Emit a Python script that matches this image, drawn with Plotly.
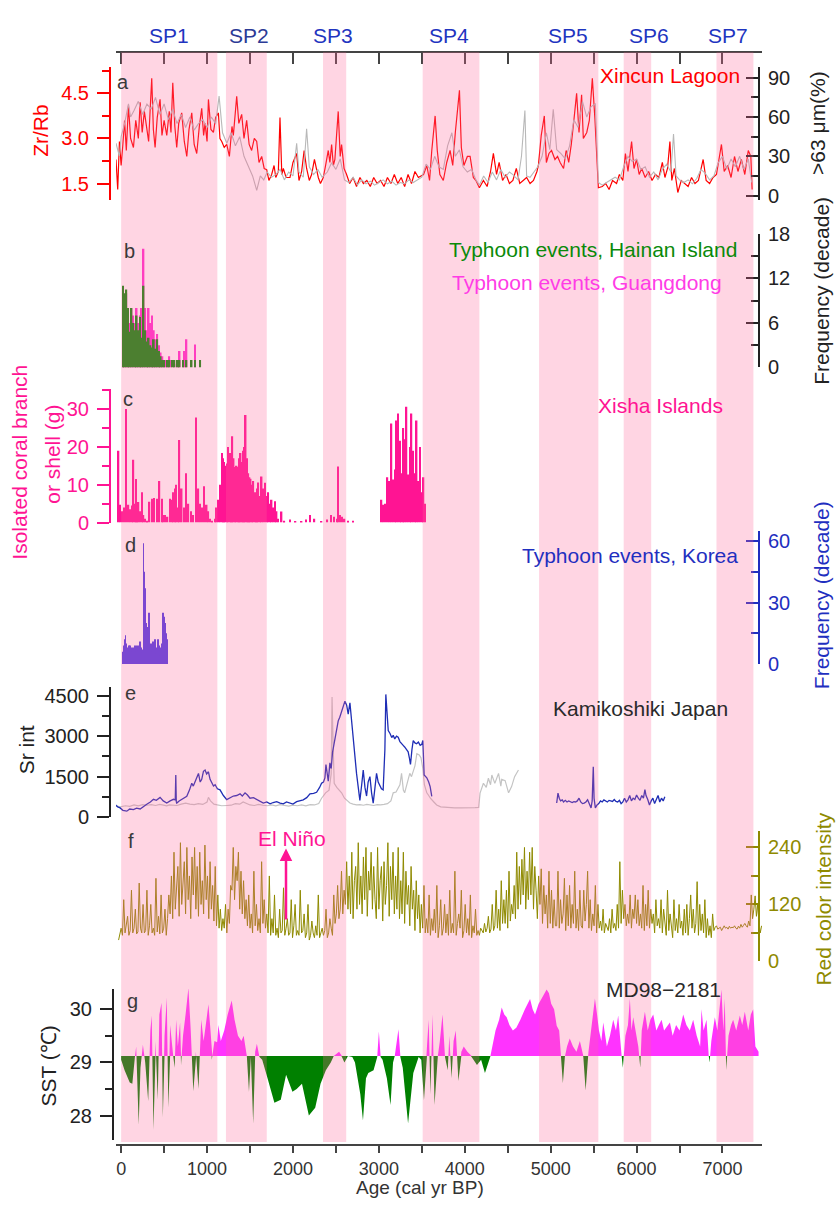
import plotly.graph_objects as go

W, H = 837, 1211

# ---------------- data ----------------
# shaded periods (cal yr BP)
SP_NAMES = ["SP1", "SP2", "SP3", "SP4", "SP5", "SP6", "SP7"]
SP_START = [0, 1220, 2350, 3510, 4865, 5850, 6930]
SP_END = [1120, 1695, 2620, 4170, 5555, 6170, 7360]
SP_LABEL_AGE = [560, 1490, 2470, 3815, 5200, 6150, 7060]

# (a) Xincun Lagoon Zr/Rb (age, value)
ZR_RB = [(-60, 2.3), (-40, 1.3), (-20, 2.9), (0, 2.1), (20, 2.8), (40, 3.6), (60, 2.6), (85, 4.1), (110, 3.0), (143, 2.7),
         (170, 3.6), (200, 3.0), (221, 4.2), (245, 3.2), (270, 3.9), (298, 3.4), (320, 2.9), (340, 4.1), (356, 5.0), (375, 3.3),
         (395, 2.7), (420, 3.7), (453, 4.3), (475, 3.1), (500, 3.6), (531, 3.1), (560, 3.9), (580, 3.2), (601, 4.85), (625, 3.4),
         (647, 2.7), (670, 3.5), (705, 3.85), (735, 2.9), (764, 2.4), (790, 3.3), (822, 3.85), (850, 2.8), (880, 2.5), (910, 3.4),
         (938, 4.0), (960, 3.1), (977, 3.5), (1000, 2.9), (1016, 4.3), (1045, 3.3), (1074, 3.2), (1100, 3.7), (1132, 3.85), (1150, 3.0),
         (1171, 2.9), (1200, 2.7), (1229, 2.8), (1260, 2.4), (1290, 3.4), (1306, 3.1), (1330, 3.9), (1345, 4.4), (1370, 3.5), (1403, 3.8),
         (1430, 3.0), (1461, 3.6), (1490, 2.8), (1519, 2.6), (1550, 3.0), (1578, 2.9), (1605, 2.2), (1636, 2.4), (1665, 2.0), (1694, 1.96),
         (1720, 1.6), (1752, 1.8), (1780, 2.1), (1800, 1.7), (1830, 1.9), (1849, 3.7), (1870, 1.8), (1888, 2.0), (1920, 1.7), (1965, 1.7),
         (2000, 2.2), (2043, 2.5), (2070, 1.6), (2101, 1.9), (2130, 2.6), (2159, 2.0), (2190, 1.6), (2217, 1.8), (2250, 2.3), (2295, 1.7),
         (2320, 1.5), (2353, 1.7), (2380, 2.1), (2411, 2.6), (2430, 2.2), (2450, 2.8), (2470, 2.1), (2488, 2.3), (2527, 3.9), (2550, 2.4),
         (2566, 2.8), (2595, 2.0), (2624, 1.8), (2660, 1.5), (2700, 1.7), (2740, 1.4), (2780, 1.7), (2820, 1.5), (2860, 1.6), (2900, 1.4),
         (2940, 1.7), (2980, 1.5), (3020, 1.6), (3060, 1.4), (3100, 1.7), (3140, 1.5), (3180, 1.8), (3220, 1.5), (3260, 1.7), (3300, 1.4),
         (3340, 1.8), (3380, 1.5), (3420, 1.9), (3460, 1.7), (3520, 1.8), (3558, 2.1), (3590, 1.6), (3616, 2.6), (3655, 3.75), (3680, 2.6),
         (3710, 1.8), (3750, 1.6), (3790, 2.2), (3829, 2.6), (3860, 2.1), (3890, 3.2), (3938, 4.6), (3960, 2.7), (3990, 2.1), (4030, 2.4),
         (4062, 2.4), (4100, 1.7), (4130, 1.6), (4170, 1.36), (4217, 1.6), (4260, 1.4), (4300, 1.9), (4333, 2.5), (4370, 1.8), (4400, 2.2),
         (4440, 1.6), (4480, 1.8), (4520, 1.5), (4560, 1.6), (4600, 2.0), (4640, 1.5), (4680, 1.6), (4720, 1.7), (4760, 1.5), (4800, 1.6),
         (4840, 1.9), (4857, 2.1), (4890, 3.1), (4926, 3.75), (4950, 2.2), (4980, 2.5), (5010, 2.6), (5050, 2.3), (5080, 2.4), (5110, 2.2),
         (5150, 2.0), (5180, 2.6), (5210, 2.2), (5240, 2.8), (5270, 3.6), (5302, 4.5), (5330, 3.2), (5360, 4.45), (5380, 3.0), (5420, 3.2),
         (5450, 3.6), (5485, 5.0), (5515, 3.65), (5555, 1.36), (5600, 1.4), (5640, 1.5), (5680, 1.3), (5720, 1.6), (5767, 1.5), (5800, 1.8),
         (5840, 1.6), (5870, 2.5), (5900, 1.9), (5942, 2.9), (5970, 2.0), (6000, 2.3), (6030, 1.8), (6060, 2.0), (6100, 1.7), (6140, 1.9),
         (6180, 1.6), (6220, 1.8), (6260, 1.7), (6300, 2.2), (6330, 1.7), (6360, 2.0), (6388, 2.9), (6410, 1.6), (6440, 2.0), (6480, 1.2),
         (6520, 1.6), (6560, 1.5), (6600, 1.4), (6640, 1.7), (6680, 1.5), (6720, 1.6), (6775, 2.3), (6810, 1.6), (6850, 1.5), (6890, 1.7),
         (6930, 1.8), (6988, 2.8), (7020, 1.9), (7060, 2.1), (7100, 1.7), (7140, 2.4), (7180, 1.9), (7220, 2.3), (7260, 1.8), (7300, 2.6),
         (7330, 2.4), (7345, 1.3)]

# (a) >63 um fraction (%) (age, value)
COARSE = [(-60, 40), (-20, 30), (0, 45), (40, 55), (85, 70), (110, 60), (150, 65), (200, 72), (250, 62), (300, 70),
          (350, 66), (400, 75), (450, 62), (500, 70), (550, 58), (600, 66), (650, 55), (700, 62), (750, 52), (800, 60),
          (850, 50), (900, 55), (950, 58), (1000, 52), (1050, 60), (1100, 55), (1140, 76), (1180, 48), (1230, 40), (1280, 48),
          (1330, 38), (1380, 45), (1430, 30), (1480, 22), (1530, 15), (1578, 4), (1620, 15), (1660, 12), (1700, 18), (1750, 14),
          (1800, 16), (1850, 20), (1900, 12), (1950, 18), (2000, 15), (2043, 40), (2070, 18), (2120, 14), (2159, 51), (2190, 22),
          (2240, 16), (2290, 20), (2340, 14), (2400, 18), (2450, 25), (2500, 20), (2550, 28), (2600, 12), (2650, 10), (2700, 14),
          (2750, 8), (2800, 12), (2850, 9), (2900, 11), (2950, 8), (3000, 10), (3050, 12), (3100, 9), (3150, 11), (3200, 8),
          (3250, 10), (3300, 9), (3350, 12), (3400, 10), (3450, 12), (3500, 14), (3550, 24), (3600, 20), (3650, 30), (3700, 22),
          (3750, 20), (3800, 38), (3850, 48), (3890, 30), (3938, 35), (3980, 22), (4030, 18), (4080, 20), (4130, 12), (4170, 8),
          (4220, 15), (4270, 10), (4320, 18), (4370, 12), (4420, 20), (4470, 14), (4520, 18), (4560, 16), (4620, 12), (4660, 30),
          (4700, 65), (4720, 15), (4760, 14), (4800, 18), (4850, 22), (4900, 30), (4950, 48), (4990, 35), (5030, 66), (5070, 35),
          (5120, 32), (5170, 28), (5220, 38), (5270, 58), (5320, 52), (5370, 72), (5420, 60), (5470, 68), (5520, 70), (5555, 10),
          (5600, 8), (5650, 10), (5700, 12), (5750, 14), (5800, 12), (5850, 22), (5900, 30), (5950, 26), (6000, 28), (6050, 20),
          (6100, 22), (6150, 14), (6200, 18), (6250, 12), (6300, 20), (6350, 24), (6400, 18), (6430, 47), (6460, 15), (6500, 12),
          (6550, 10), (6600, 12), (6650, 9), (6700, 13), (6750, 20), (6800, 17), (6850, 12), (6900, 15), (6950, 25), (7000, 30),
          (7050, 20), (7100, 28), (7150, 22), (7200, 30), (7250, 20), (7300, 28), (7340, 10)]

# (b) typhoon frequency per bin, ages 20..940 step 20
B_AGE = [20, 40, 60, 80, 100, 120, 140, 160, 180, 200, 220, 240, 260, 280, 300, 320, 340, 360, 380, 400,
         420, 440, 460, 480, 500, 520, 540, 560, 580, 600, 620, 640, 660, 680, 700, 720, 740, 760, 780, 800,
         820, 840, 860, 880, 900, 920, 940]
B_HAINAN = [11, 10, 10.5, 8, 4.8, 8, 6, 5, 7, 5, 6.8, 4, 11, 5, 3.5, 4, 3, 2.7, 3.8, 2.5,
            3.8, 2.2, 1.5, 1, 1, 0, 1, 1, 0, 1, 1, 0, 1, 1, 0, 1, 0, 1, 0, 0,
            1, 0, 1, 0, 0, 1, 0]
B_GUANGDONG = [9, 9, 10, 8, 6, 8, 7, 6, 8, 6, 7, 8, 16, 8, 5, 8, 6, 7, 5, 3.8,
               4.5, 3, 2, 1.5, 1, 1, 1, 1.5, 1, 0, 0.5, 0, 1, 2.2, 0, 1, 2.2, 3.8, 0, 0,
               0, 0, 3.1, 0, 0, 0, 0]

# (c) Xisha Islands coral/shell weight (age, g)
CORAL = [(-30, 19), (-12, 4.7), (10, 3), (35, 4), (58, 30), (85, 4.7), (105, 3.5), (124, 4.5), (143, 16.6), (160, 5),
         (174, 11.5), (190, 4), (202, 5.4), (220, 3), (240, 8), (260, 2), (279, 1), (300, 0.5), (330, 5.5), (357, 6.3),
         (385, 6.5), (415, 6.3), (446, 11), (473, 6.3), (490, 2), (512, 2), (540, 1.5), (570, 6.3), (589, 6), (610, 8),
         (628, 9), (640, 10), (660, 4), (678, 21.8), (705, 9), (730, 4), (756, 13), (783, 5), (810, 3), (840, 2),
         (872, 27.8), (899, 9), (920, 5), (938, 4), (965, 9.6), (996, 4.7), (1015, 3), (1035, 1), (1060, 0.5), (1090, 1),
         (1112, 4), (1135, 6), (1150, 10), (1171, 18.4), (1185, 17), (1198, 16), (1215, 15), (1229, 15.6), (1245, 20), (1267, 18.4),
         (1282, 16), (1295, 22.8), (1310, 17), (1326, 14.7), (1345, 15), (1364, 14.7), (1380, 17), (1391, 18.4), (1408, 16), (1422, 19),
         (1436, 20), (1450, 28.4), (1465, 17), (1481, 13), (1495, 12), (1508, 11.6), (1525, 10), (1539, 11), (1555, 8), (1570, 4.7),
         (1585, 9), (1597, 10.6), (1615, 7), (1636, 12.2), (1655, 9), (1674, 10.5), (1695, 7), (1713, 8), (1733, 5), (1752, 6),
         (1770, 4), (1791, 5.6), (1810, 3), (1829, 1), (1868, 2.9), (1900, 0.5), (1965, 0.8), (2030, 0.4), (2101, 0.4), (2150, 0.8),
         (2198, 2), (2250, 1), (2333, 0.4), (2400, 0.8), (2440, 2), (2480, 1.5), (2510, 1), (2527, 14.8), (2545, 2), (2570, 1.5),
         (2600, 1), (2640, 0.5), (2700, 0.5), (3031, 6), (3050, 4.7), (3075, 5), (3100, 12), (3125, 11), (3147, 26.2), (3165, 11.4),
         (3185, 14), (3205, 27), (3225, 28.8), (3245, 21.6), (3265, 13), (3285, 25), (3300, 22), (3322, 30.6), (3340, 12.7), (3360, 20),
         (3380, 28.8), (3400, 19), (3420, 13), (3440, 27), (3460, 11), (3480, 20), (3500, 8), (3520, 12), (3540, 5)]

# (d) Korea typhoon frequency, ages 20..530 step 10
D_AGE = [20, 30, 40, 50, 60, 70, 80, 90, 100, 110, 120, 130, 140, 150, 160, 170, 180, 190, 200, 210,
         220, 230, 240, 250, 260, 270, 280, 290, 300, 310, 320, 330, 340, 350, 360, 370, 380, 390, 400, 410,
         420, 430, 440, 450, 460, 470, 480, 490, 500, 510, 520, 530]
D_KOREA = [6, 9, 12, 14, 10, 8, 7, 9, 9, 7, 8, 6, 8, 7, 9, 6, 9, 8, 6.5, 9,
           11, 8, 5.5, 7, 59, 45, 37, 20, 12, 18, 25, 15, 8, 10, 6, 11, 9, 12, 8, 5,
           8, 12, 9, 4, 8, 10, 7, 25, 23, 20, 15, 12]

# (e) Kamikoshiki Sr intensity (age, value)
SR_BLUE_1 = [(-70, 464), (-40, 380), (-12, 340), (20, 250), (66, 220), (100, 300), (143, 280), (180, 330), (221, 300), (260, 400),
             (298, 475), (340, 560), (376, 660), (410, 620), (453, 730), (490, 600), (531, 523), (570, 600), (609, 660), (630, 640),
             (636, 1560), (642, 560), (647, 520), (675, 600), (705, 660), (735, 700), (764, 770), (795, 1000), (822, 1255), (840, 1150),
             (861, 1300), (880, 1450), (900, 1620), (920, 1300), (938, 1400), (958, 1700), (977, 1745), (995, 1600), (1016, 1680), (1035, 1400),
             (1055, 1255), (1075, 1150), (1094, 1200), (1120, 1050), (1151, 1010), (1190, 800), (1229, 647), (1260, 700), (1306, 780), (1345, 800),
             (1384, 860), (1410, 780), (1442, 900), (1470, 820), (1500, 700), (1540, 720), (1578, 660), (1615, 600), (1655, 520), (1695, 560),
             (1733, 490), (1770, 540), (1810, 570), (1850, 520), (1888, 490), (1925, 560), (1965, 520), (2000, 480), (2043, 570), (2080, 600),
             (2120, 640), (2160, 720), (2198, 860), (2240, 880), (2275, 920), (2310, 1100), (2333, 1255), (2355, 1300), (2372, 1455), (2384, 1950),
             (2398, 1500), (2411, 1330), (2430, 2010), (2445, 1800), (2461, 2410), (2488, 2840), (2510, 3300), (2527, 3570), (2545, 3700), (2566, 3940),
             (2585, 4100), (2605, 4300), (2625, 4150), (2643, 3820), (2663, 4240), (2680, 3600), (2702, 2960), (2720, 2300), (2740, 1620), (2760, 1100),
             (2779, 620), (2800, 1200), (2818, 1745), (2838, 1100), (2857, 780), (2875, 1300), (2896, 1500), (2915, 900), (2934, 520), (2955, 1100),
             (2973, 1620), (2992, 1300), (3012, 1130), (3030, 1050), (3050, 1010), (3070, 2500), (3081, 4550), (3095, 3600), (3109, 3210), (3130, 3100),
             (3150, 2950), (3167, 3030), (3185, 2900), (3205, 3000), (3225, 2960), (3245, 2800), (3265, 2700), (3283, 2660), (3300, 2600), (3320, 2500),
             (3341, 2420), (3355, 2200), (3368, 1950), (3385, 2500), (3400, 2840), (3420, 2750), (3438, 2720), (3460, 2780), (3481, 2660), (3500, 2700),
             (3512, 2840), (3527, 1560), (3545, 1500), (3558, 1455), (3580, 1300), (3597, 1130), (3616, 770)]
SR_BLUE_2 = [(5070, 523), (5085, 890), (5100, 700), (5115, 600), (5135, 640), (5150, 560), (5170, 620), (5190, 560), (5210, 600), (5230, 560),
             (5250, 540), (5270, 570), (5290, 560), (5310, 600), (5330, 700), (5350, 560), (5370, 500), (5390, 520), (5410, 560), (5430, 640),
             (5450, 500), (5470, 340), (5483, 600), (5496, 1870), (5505, 700), (5520, 340), (5540, 450), (5560, 500), (5580, 600), (5600, 560),
             (5620, 640), (5640, 600), (5660, 560), (5680, 620), (5700, 600), (5720, 580), (5740, 650), (5760, 580), (5780, 560), (5800, 620),
             (5820, 500), (5840, 560), (5860, 700), (5880, 560), (5900, 640), (5920, 800), (5940, 600), (5960, 700), (5980, 650), (6000, 820),
             (6020, 700), (6040, 620), (6060, 800), (6080, 700), (6097, 1020), (6110, 800), (6130, 650), (6150, 450), (6170, 600), (6190, 700),
             (6210, 500), (6230, 650), (6250, 800), (6270, 560), (6290, 700), (6310, 600), (6329, 750)]
SR_GRAY = [(-70, 420), (-12, 380), (50, 420), (100, 400), (150, 450), (200, 420), (250, 460), (300, 440), (350, 460), (400, 430),
           (450, 470), (500, 440), (531, 420), (560, 450), (600, 440), (650, 430), (700, 480), (750, 520), (800, 480), (850, 460),
           (900, 500), (950, 470), (1000, 560), (1016, 730), (1040, 600), (1080, 480), (1120, 450), (1170, 420), (1230, 430), (1280, 440),
           (1330, 500), (1380, 480), (1420, 560), (1460, 500), (1500, 450), (1550, 430), (1600, 470), (1650, 440), (1700, 420), (1750, 450),
           (1800, 420), (1850, 460), (1900, 430), (1950, 410), (2000, 440), (2050, 420), (2100, 450), (2150, 420), (2200, 460), (2250, 450),
           (2300, 500), (2333, 700), (2380, 900), (2420, 1000), (2445, 1600), (2455, 4450), (2465, 3000), (2480, 1255), (2510, 1100), (2540, 1000),
           (2566, 900), (2600, 700), (2640, 560), (2663, 520), (2700, 480), (2740, 450), (2780, 460), (2820, 440), (2860, 470), (2900, 450),
           (2940, 430), (2980, 460), (3020, 450), (3060, 470), (3100, 500), (3140, 600), (3167, 900), (3200, 930), (3245, 1200), (3264, 1620),
           (3285, 1000), (3300, 900), (3322, 1130), (3340, 1400), (3360, 1620), (3380, 1500), (3400, 1700), (3420, 1900), (3442, 2350), (3470, 2300),
           (3490, 2200), (3512, 1800), (3530, 1200), (3558, 900), (3580, 800), (3600, 700), (3640, 560), (3673, 450), (3720, 380), (3800, 350),
           (3880, 340), (3960, 345), (4040, 340), (4120, 350), (4162, 360), (4178, 890), (4217, 1255), (4250, 1100), (4275, 1440), (4300, 1200),
           (4315, 1560), (4350, 1250), (4393, 1620), (4420, 1150), (4430, 1400), (4470, 1350), (4510, 900), (4545, 1130), (4580, 1500), (4625, 1745)]

# (f) red color intensity, ages from -30 every 15 yr
F_START, F_STEP = -30, 15
RED_INTENSITY = [
    45, 60, 70, 55, 130, 60, 75, 95, 55, 65, 150, 60, 70, 110, 58, 62, 165, 70, 60, 120,
    60, 65, 150, 55, 75, 120, 60, 70, 55, 175, 62, 95, 58, 140, 60, 70, 110, 55, 90, 140,
    100, 180, 90, 230, 110, 150, 200, 95, 250, 120, 170, 210, 100, 240, 130, 180, 90, 220, 140, 240,
    110, 200, 95, 230, 120, 170, 100, 245, 130, 180, 90, 210, 110, 160, 85, 200, 75, 140, 70, 110,
    65, 90, 70, 120, 60, 110, 80, 160, 150, 240, 130, 200, 170, 230, 110, 190, 100, 170, 90, 130,
    75, 140, 70, 100, 60, 190, 75, 120, 65, 90, 60, 210, 80, 130, 70, 100, 60, 180, 55, 90,
    60, 140, 55, 70, 50, 110, 60, 65, 155, 55, 70, 90, 55, 60, 130, 50, 75, 120, 55, 65,
    55, 150, 60, 65, 100, 50, 60, 120, 45, 55, 85, 60, 50, 75, 55, 140, 50, 60, 70, 55,
    65, 110, 50, 60, 90, 70, 55, 140, 80, 100, 160, 90, 110, 190, 100, 150, 120, 210, 110, 180,
    100, 230, 90, 170, 200, 110, 250, 120, 180, 100, 220, 130, 240, 95, 190, 150, 230, 110, 200, 130,
    90, 240, 110, 170, 200, 85, 210, 120, 160, 250, 95, 200, 130, 230, 100, 180, 110, 240, 90, 170,
    100, 230, 80, 190, 120, 160, 75, 200, 110, 150, 65, 170, 90, 140, 60, 120, 70, 160, 60, 90,
    60, 140, 55, 90, 65, 110, 60, 160, 50, 75, 130, 55, 70, 120, 60, 100, 55, 150, 60, 80,
    60, 190, 55, 80, 100, 70, 150, 50, 65, 120, 60, 90, 55, 140, 50, 75, 60, 110, 55, 65,
    55, 70, 65, 60, 80, 62, 70, 95, 60, 68, 120, 65, 75, 150, 70, 110, 65, 170, 80, 130,
    80, 150, 70, 190, 85, 120, 100, 160, 90, 230, 110, 200, 120, 215, 140, 240, 110, 190, 130, 230,
    140, 240, 110, 200, 150, 90, 180, 120, 195, 80, 160, 100, 140, 70, 190, 80, 150, 70, 130, 75,
    75, 190, 70, 130, 80, 100, 175, 65, 140, 75, 160, 70, 120, 80, 190, 70, 110, 65, 150, 75,
    70, 150, 85, 120, 190, 70, 130, 65, 100, 75, 160, 60, 120, 70, 85, 65, 110, 60, 80, 70,
    65, 90, 60, 110, 70, 80, 65, 120, 70, 210, 80, 150, 90, 120, 75, 100, 80, 140, 70, 110,
    90, 140, 80, 130, 75, 100, 70, 160, 65, 120, 75, 150, 70, 110, 80, 100, 60, 130, 75, 90,
    70, 130, 60, 110, 75, 55, 150, 65, 100, 70, 50, 130, 65, 90, 60, 120, 70, 85, 55, 110,
    60, 120, 55, 90, 140, 70, 110, 60, 80, 168, 55, 120, 65, 100, 60, 130, 50, 90, 55, 75,
    50, 100, 65, 72, 75, 68, 70, 72, 65, 70, 75, 70, 72, 68, 74, 70, 72, 71, 75, 70,
    68, 74, 70, 78, 72, 76, 80, 75, 72, 85, 75, 140, 90, 110, 138, 95, 120, 80, 60, 75]

# (g) MD98-2181 SST (age, degC)
SST_BASE = 29.12
SST = [(0, 29.05), (40, 28.85), (100, 28.62), (130, 28.6), (160, 29.1), (175, 29.3), (204, 27.83), (225, 28.9), (253, 29.33), (280, 29.0),
       (315, 28.27), (340, 29.6), (356, 29.88), (376, 27.73), (400, 29.4), (426, 28.3), (445, 29.9), (470, 30.12), (485, 27.96), (505, 29.5),
       (531, 30.22), (549, 28.15), (570, 29.7), (600, 29.2), (623, 28.9), (640, 29.8), (660, 29.3), (686, 29.75), (697, 28.95), (720, 29.5),
       (750, 29.9), (783, 30.4), (810, 29.6), (840, 28.46), (870, 29.2), (900, 28.5), (932, 29.8), (960, 29.4), (985, 29.7), (1016, 30.09),
       (1040, 29.6), (1055, 29.05), (1086, 29.4), (1117, 29.38), (1132, 29.7), (1160, 29.4), (1200, 29.6), (1240, 29.9), (1287, 30.16), (1320, 29.8),
       (1360, 29.5), (1400, 29.4), (1426, 29.5), (1460, 29.2), (1488, 28.45), (1510, 29.1), (1537, 27.85), (1560, 29.2), (1580, 29.35), (1610, 29.1),
       (1642, 29.05), (1704, 28.7), (1784, 28.24), (1858, 28.3), (1920, 28.77), (1994, 28.45), (2043, 28.5), (2105, 28.6), (2185, 28.0), (2259, 28.15),
       (2321, 28.6), (2383, 28.85), (2440, 29.0), (2475, 29.12), (2537, 29.2), (2570, 29.1), (2599, 29.0), (2640, 29.12), (2691, 29.1), (2722, 29.0),
       (2784, 28.4), (2815, 27.91), (2850, 28.7), (2877, 28.8), (2938, 28.85), (2981, 29.1), (3000, 29.58), (3020, 29.1), (3043, 29.05), (3093, 28.7),
       (3136, 28.2), (3165, 29.0), (3185, 29.12), (3228, 29.62), (3250, 29.1), (3278, 28.9), (3340, 27.85), (3401, 28.8), (3463, 29.1), (3494, 29.05),
       (3525, 28.29), (3560, 29.3), (3580, 29.8), (3600, 28.4), (3625, 29.9), (3648, 28.2), (3685, 29.1), (3710, 29.4), (3741, 29.9), (3770, 29.1),
       (3802, 28.85), (3820, 29.5), (3846, 28.7), (3870, 29.4), (3895, 29.6), (3926, 28.65), (3960, 29.2), (3988, 29.3), (4030, 29.2), (4080, 29.1),
       (4142, 28.95), (4190, 29.05), (4235, 28.8), (4296, 29.1), (4358, 29.6), (4400, 29.8), (4430, 30.03), (4460, 29.9), (4488, 29.85), (4520, 29.7),
       (4560, 29.6), (4600, 29.65), (4647, 29.8), (4700, 30.0), (4760, 30.19), (4790, 30.0), (4818, 29.9), (4860, 30.1), (4895, 30.2), (4953, 30.37),
       (4980, 30.3), (5006, 30.1), (5040, 30.0), (5070, 29.69), (5099, 29.6), (5120, 29.1), (5142, 28.61), (5165, 29.1), (5190, 29.3), (5222, 29.45),
       (5260, 29.3), (5300, 29.2), (5340, 29.4), (5380, 29.1), (5407, 28.47), (5440, 29.2), (5480, 29.8), (5515, 30.2), (5540, 29.9), (5562, 29.6),
       (5590, 29.4), (5612, 29.75), (5654, 29.3), (5690, 29.5), (5728, 29.8), (5760, 29.6), (5786, 29.88), (5815, 29.3), (5840, 28.9), (5870, 29.5),
       (5900, 29.7), (5922, 30.2), (5940, 29.6), (5961, 29.85), (6000, 29.5), (6020, 29.3), (6043, 28.9), (6060, 29.6), (6080, 29.8), (6097, 29.95),
       (6130, 29.6), (6160, 29.8), (6194, 29.9), (6230, 29.6), (6260, 29.7), (6291, 29.8), (6320, 29.6), (6360, 29.7), (6388, 29.75), (6420, 29.5),
       (6460, 29.7), (6500, 29.6), (6543, 29.9), (6580, 29.7), (6620, 29.6), (6659, 29.8), (6700, 29.5), (6740, 29.3), (6756, 30.0), (6780, 29.6),
       (6814, 29.8), (6840, 29.12), (6850, 29.0), (6870, 29.4), (6911, 29.85), (6940, 29.6), (6988, 30.37), (7010, 29.6), (7027, 30.2), (7043, 28.85),
       (7070, 29.5), (7100, 29.7), (7124, 29.8), (7160, 29.6), (7202, 29.88), (7230, 29.7), (7260, 29.95), (7300, 29.6), (7330, 29.9), (7357, 30.0),
       (7383, 29.3), (7420, 29.2)]

EL_NINO_AGE = 1919

# ---------------- styling ----------------
FONT = "Liberation Sans, Arial, sans-serif"
RED = "#ff0000"
GRAY = "#b8b8b8"
GREEN_B = "#0a8a0a"
MAG_B = "#ff30d0"
PINK = "#ff1493"
BLUE_BAR = "#4b3de6"
BLUE_AX = "#1f2fc0"
BLUE_E = "#1e2db5"
OLIVE = "#8f8a00"
MAG_G = "#ff33ff"
GREEN_G = "#008000"
DARK = "#333333"
BAND = "rgba(255,100,150,0.27)"
TICK_SIZE = 20
TXT_SIZE = 21


def px(x):
    return x / W


def py(y):
    return 1 - y / H


def unzip(pairs):
    return [p[0] for p in pairs], [p[1] for p in pairs]


fig = go.Figure()

# (a)
za, zv = unzip(ZR_RB)
ca, cv = unzip(COARSE)
fig.add_trace(go.Scatter(x=ca, y=cv, xaxis="x", yaxis="y2", mode="lines",
                         line=dict(color=GRAY, width=1.1), hoverinfo="skip"))
fig.add_trace(go.Scatter(x=za, y=zv, xaxis="x", yaxis="y", mode="lines",
                         line=dict(color=RED, width=1.2), hoverinfo="skip"))
# top axis helper
fig.add_trace(go.Scatter(x=[0, 7000], y=[3, 3], xaxis="x2", yaxis="y", mode="markers",
                         marker=dict(opacity=0), hoverinfo="skip"))

# (b)
fig.add_trace(go.Bar(x=B_AGE, y=B_GUANGDONG, width=20, xaxis="x", yaxis="y3",
                     marker=dict(color=MAG_B, line=dict(width=0))))
fig.add_trace(go.Bar(x=B_AGE, y=B_HAINAN, width=20, xaxis="x", yaxis="y3",
                     marker=dict(color=GREEN_B, line=dict(width=0))))

# (c)
cra, crv = unzip(CORAL)
fig.add_trace(go.Bar(x=cra, y=crv, width=17, xaxis="x", yaxis="y4",
                     marker=dict(color=PINK, line=dict(width=0))))

# (d)
fig.add_trace(go.Bar(x=D_AGE, y=D_KOREA, width=10, xaxis="x", yaxis="y5",
                     marker=dict(color=BLUE_BAR, line=dict(width=0))))

# (e)
ga, gv = unzip(SR_GRAY)
b1a, b1v = unzip(SR_BLUE_1)
b2a, b2v = unzip(SR_BLUE_2)
fig.add_trace(go.Scatter(x=ga, y=gv, xaxis="x", yaxis="y6", mode="lines",
                         line=dict(color="#c4c4c4", width=1.2), hoverinfo="skip"))
fig.add_trace(go.Scatter(x=b1a, y=b1v, xaxis="x", yaxis="y6", mode="lines",
                         line=dict(color=BLUE_E, width=1.3), hoverinfo="skip"))
fig.add_trace(go.Scatter(x=b2a, y=b2v, xaxis="x", yaxis="y6", mode="lines",
                         line=dict(color=BLUE_E, width=1.3), hoverinfo="skip"))

# (f)
f_age = [F_START + F_STEP * i for i in range(len(RED_INTENSITY))]
fig.add_trace(go.Scatter(x=f_age, y=RED_INTENSITY, xaxis="x", yaxis="y7", mode="lines",
                         line=dict(color=OLIVE, width=1.0), hoverinfo="skip"))

# (g) fill above / below baseline
sa, sv = unzip(SST)
X, Y = [sa[0]], [sv[0]]
for i in range(1, len(sa)):
    x0, y0, x1, y1 = sa[i - 1], sv[i - 1], sa[i], sv[i]
    if (y0 - SST_BASE) * (y1 - SST_BASE) < 0:
        X.append(x0 + (SST_BASE - y0) * (x1 - x0) / (y1 - y0))
        Y.append(SST_BASE)
    X.append(x1)
    Y.append(y1)
up = [max(v, SST_BASE) for v in Y]
dn = [min(v, SST_BASE) for v in Y]
basel = [SST_BASE] * len(X)
fig.add_trace(go.Scatter(x=X, y=basel, xaxis="x", yaxis="y8", mode="lines",
                         line=dict(width=0), hoverinfo="skip"))
fig.add_trace(go.Scatter(x=X, y=up, xaxis="x", yaxis="y8", mode="lines", fill="tonexty",
                         fillcolor=MAG_G, line=dict(width=0), hoverinfo="skip"))
fig.add_trace(go.Scatter(x=X, y=basel, xaxis="x", yaxis="y8", mode="lines",
                         line=dict(width=0), hoverinfo="skip"))
fig.add_trace(go.Scatter(x=X, y=dn, xaxis="x", yaxis="y8", mode="lines", fill="tonexty",
                         fillcolor=GREEN_G, line=dict(width=0), hoverinfo="skip"))


def yax(top, bot, rng, dtick, minor, color, side, tick0=0, fmt=None, overlay=None):
    d = dict(domain=[py(bot), py(top)], range=rng, anchor="free",
             position=px(110) if side == "left" else px(759), side=side,
             showgrid=False, zeroline=False, showline=True, linecolor=color, linewidth=2,
             ticks="outside" if side == "left" else "inside", ticklen=12, tickwidth=2,
             tickcolor=color, tickfont=dict(size=TICK_SIZE, color=color, family=FONT),
             tickmode="linear", tick0=tick0, dtick=dtick, ticklabelstandoff=4,
             minor=dict(ticks="outside" if side == "left" else "inside", tick0=tick0, dtick=minor,
                        ticklen=7, tickwidth=2, tickcolor=color))
    if fmt:
        d["tickformat"] = fmt
    if overlay:
        d["overlaying"] = overlay
    return d


layout = dict(
    width=W, height=H, autosize=False,
    margin=dict(l=0, r=0, t=0, b=0),
    paper_bgcolor="white", plot_bgcolor="rgba(0,0,0,0)",
    showlegend=False, barmode="overlay",
    font=dict(family=FONT, color=DARK),
    xaxis=dict(domain=[px(116), px(762)], range=[-60, 7460], anchor="free", position=py(1155),
               showgrid=False, zeroline=False, showline=True, linecolor="#444", linewidth=2,
               ticks="outside", ticklen=7, tickwidth=2, tickcolor="#444",
               tickmode="linear", tick0=0, dtick=1000, ticklabelstandoff=0,
               tickfont=dict(size=18, color=DARK, family=FONT),
               minor=dict(ticks="outside", tick0=0, dtick=500, ticklen=7, tickwidth=2, tickcolor="#444")),
    xaxis2=dict(domain=[px(116), px(762)], range=[-60, 7460], overlaying="x", side="top",
                anchor="free", position=py(42), showgrid=False, zeroline=False, showline=True,
                linecolor="#444", linewidth=2, ticks="inside", ticklen=11, tickwidth=2,
                tickcolor="#444", tickmode="linear", tick0=0, dtick=500, showticklabels=False),
    yaxis=yax(57, 192, [0.967, 5.38], 1.5, 0.75, RED, "left", tick0=1.5, fmt=".1f"),
    yaxis2=yax(57, 192, [-3, 98.25], 30, 15, "#222222", "right", overlay="y"),
    yaxis3=yax(227, 363, [0, 18], 6, 3, "#222222", "right"),
    yaxis4=yax(385, 521, [0, 35.3], 10, 5, PINK, "left"),
    yaxis5=yax(530, 665, [0, 64.8], 30, 15, BLUE_AX, "right"),
    yaxis6=yax(688, 821, [0, 4843], 1500, 750, "#222222", "left"),
    yaxis7=yax(835, 968, [0, 275], 120, 60, OLIVE, "right"),
    yaxis8=yax(996, 1150, [27.54, 30.38], 1, 0.5, "#222222", "left"),
)
layout["yaxis8"]["position"] = px(113)
fig.update_layout(**layout)

# shaded periods on top
for s, e in zip(SP_START, SP_END):
    fig.add_shape(type="rect", xref="x", yref="paper", x0=s, x1=e, y0=py(1152), y1=py(42),
                  fillcolor=BAND, line=dict(width=0), layer="above")

ann = []


def txt(x, y, t, color=DARK, size=TXT_SIZE, xanchor="center", angle=0, xref="paper", yref="paper",
        yanchor="middle"):
    ann.append(dict(x=x, y=y, xref=xref, yref=yref, text=t, showarrow=False,
                    font=dict(size=size, color=color, family=FONT), xanchor=xanchor,
                    yanchor=yanchor, textangle=angle))


for name, age in zip(SP_NAMES, SP_LABEL_AGE):
    txt(age, py(25), name, color="#1f35c0" if name != "SP2" else "#2c3b96", xref="x")

for lab, (lx, ly) in zip("abcdefg", [(123, 72), (129, 244), (128, 395), (130, 544),
                                      (130, 695), (131, 845), (132, 1008)]):
    txt(px(lx), py(ly), lab, color="#3a3a3a", size=20)

txt(px(742), py(66), "Xincun Lagoon", color=RED, xanchor="right")
txt(px(447), py(243), "Typhoon events, Hainan Island", color=GREEN_B, xanchor="left")
txt(px(450), py(277), "Typhoon events, Guangdong", color="#ff3ce6", xanchor="left")
txt(px(725), py(402), "Xisha Islands", color=PINK, xanchor="right")
txt(px(740), py(555), "Typhoon events, Korea", color=BLUE_AX, xanchor="right")
txt(px(730), py(710), "Kamikoshiki Japan", color="#2a2a2a", xanchor="right")
txt(px(604), py(997), "MD98\u22122181", color="#2a2a2a", xanchor="left")
txt(px(292), py(843), "El Niño", color=PINK)

# axis titles
txt(px(41), py(122), "Zr/Rb", color=RED, angle=-90)
txt(px(818), py(114), ">63 μm(%)", color="#222222", angle=-90)
txt(px(822), py(285), "Frequency (decade)", color="#222222", angle=-90)
txt(px(20), py(460), "Isolated coral branch", color=PINK, angle=-90)
txt(px(53), py(452), "or shell (g)", color=PINK, angle=-90)
txt(px(821), py(595), "Frequency (decade)", color=BLUE_AX, angle=-90)
txt(px(26), py(753), "Sr int", color="#222222", angle=-90)
txt(px(824), py(905), "Red color intensity", color=OLIVE, angle=-90)
txt(px(48), py(1075), "SST (℃)", color="#222222", angle=-90)
txt(px(420), py(1211), "Age (cal yr BP)", color=DARK, size=19, yanchor="bottom")

# El Nino arrow
ann.append(dict(x=EL_NINO_AGE, y=238, xref="x", yref="y7", ax=EL_NINO_AGE, ay=85,
                axref="x", ayref="y7", text="", showarrow=True, arrowhead=2, arrowsize=1,
                arrowwidth=2.5, arrowcolor=PINK))

fig.update_layout(annotations=ann)
fig.write_html("out.html", config={"displayModeBar": False},
               post_script="document.body.style.margin='0px';")
